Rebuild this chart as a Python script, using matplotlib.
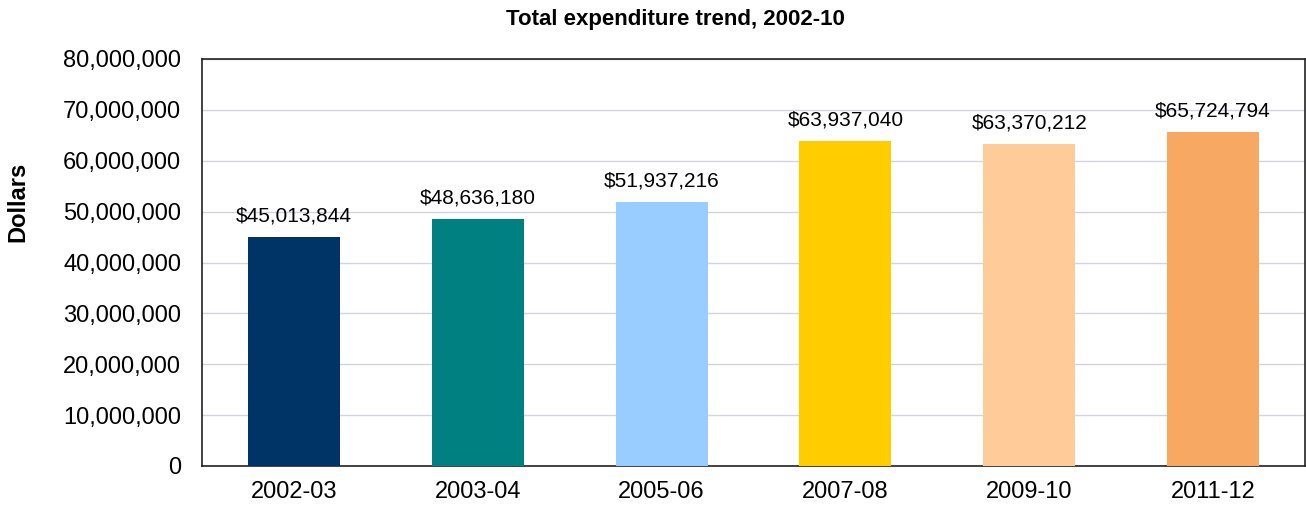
import matplotlib.pyplot as plt
from matplotlib.ticker import FuncFormatter

plt.rcParams['font.family'] = ['Liberation Sans', 'DejaVu Sans']

years = ['2002-03', '2003-04', '2005-06', '2007-08', '2009-10', '2011-12']
spend = [45013844, 48636180, 51937216, 63937040, 63370212, 65724794]
colours = ['#003366', '#008080', '#99CCFF', '#FFCC00', '#FFCC99', '#F7A862']

fig = plt.figure(figsize=(13.06, 5.09), dpi=100)
ax = fig.add_axes([202 / 1306, 43 / 509, 1103 / 1306, 407 / 509])

x = range(len(years))
bars = ax.bar(x, spend, width=0.5, color=colours, zorder=3)
for b, v in zip(bars, spend):
    ax.text(b.get_x() + b.get_width() / 2, v + 3000000, '${:,}'.format(v),
            ha='center', va='baseline', fontsize=15)

ax.set_xlim(-0.5, 5.5)
ax.set_ylim(0, 80000000)
ax.set_yticks(range(0, 80000001, 10000000))
ax.yaxis.set_major_formatter(FuncFormatter(lambda v, p: '{:,}'.format(int(v))))
ax.set_xticks(list(x))
ax.set_xticklabels(years)
ax.tick_params(length=0, labelsize=17)
ax.tick_params(axis='y', pad=15)
ax.tick_params(axis='x', pad=11)
ax.grid(axis='y', color='#d4d4e0', linewidth=1, zorder=0)

for s in ax.spines.values():
    s.set_color('#222222')
    s.set_linewidth(1.2)

fig.text(18 / 1306, 1 - 202 / 509, 'Dollars', rotation=90,
         ha='center', va='center', fontsize=17, fontweight='bold')
fig.text(675 / 1306, 1 - 20 / 509, 'Total expenditure trend, 2002-10',
         ha='center', va='center', fontsize=16, fontweight='bold')

fig.savefig('out.png', dpi=100)
